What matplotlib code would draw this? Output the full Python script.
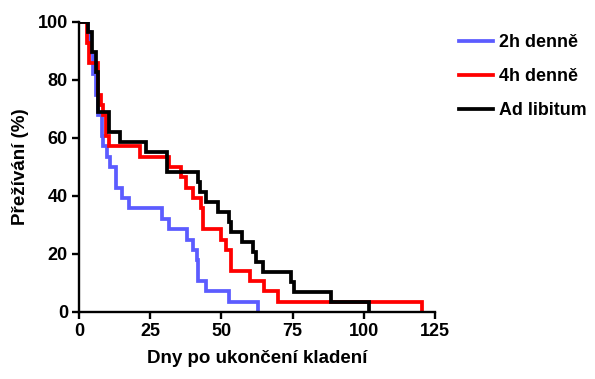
import matplotlib
matplotlib.use("Agg")
import matplotlib.pyplot as plt

plt.rcParams['font.family'] = ['Liberation Sans', 'DejaVu Sans']

# Data: drop times (days) and survival (%) after each drop
t_2h = [0, 3, 4, 5, 6, 6.5, 8, 8.5, 10, 11, 13, 15, 17.5, 29, 31.5, 37.8, 39.9, 41.3, 41.8, 44.5, 52.5, 62.7]
s_2h = [100, 96.4, 89.3, 82.1, 75, 67.9, 60.7, 57.1, 53.6, 50, 42.9, 39.3, 35.7, 32.1, 28.6, 25, 21.4, 17.9, 10.7, 7.1, 3.6, 0]

t_4h = [0, 2.8, 3.5, 6.7, 7.7, 8.5, 9.5, 10.5, 21.5, 31.5, 35.7, 37.5, 40, 42.8, 43.7, 49.7, 51.5, 53.2, 60.2, 64.8, 69.7, 120.5]
s_4h = [100, 92.9, 85.7, 75, 71.4, 67.9, 60.7, 57.1, 53.6, 50, 46.4, 42.9, 39.3, 35.7, 28.6, 25, 21.4, 14.3, 10.7, 7.1, 3.6, 0]

t_ad = [0, 3, 4.5, 6, 6.5, 10.5, 14.5, 23.5, 31, 41.7, 42.5, 44.5, 48.7, 52.5, 53.2, 57.4, 61, 62.3, 64.5, 74.5, 75.5, 88.6, 101.9]
s_ad = [100, 96.6, 89.7, 82.8, 69, 62.1, 58.6, 55.2, 48.3, 44.8, 41.4, 37.9, 34.5, 31, 27.6, 24.1, 20.7, 17.2, 13.8, 10.3, 6.9, 3.4, 0]

labels = ["2h denně", "4h denně", "Ad libitum"]
colors = ["#5C5CFF", "#FF0000", "#000000"]

x_ticks = [0, 25, 50, 75, 100, 125]
y_ticks = [0, 20, 40, 60, 80, 100]

fig = plt.figure(figsize=(5.95, 3.79), dpi=100)
ax = fig.add_axes([79/595, 1-312/379, (435-79)/595, (312-22)/379])

for t, s, lab, c in zip([t_2h, t_4h, t_ad], [s_2h, s_4h, s_ad], labels, colors):
    ax.step(t, s, where='post', color=c, lw=2.7, label=lab, solid_joinstyle='miter')

ax.set_xlim(0, 125)
ax.set_ylim(0, 100)
ax.set_xticks(x_ticks)
ax.set_yticks(y_ticks)
for side in ['top', 'right']:
    ax.spines[side].set_visible(False)
for side in ['left', 'bottom']:
    ax.spines[side].set_linewidth(1.7)
ax.tick_params(width=1.7, length=5, labelsize=13, pad=3)
for lbl in ax.get_xticklabels() + ax.get_yticklabels():
    lbl.set_fontweight('bold')

ax.set_xlabel("Dny po ukončení kladení", fontsize=13.5, fontweight='bold', labelpad=7)
ax.set_ylabel("Přežívání (%)", fontsize=13.5, fontweight='bold', labelpad=6)

leg = fig.legend(loc='upper left', bbox_to_anchor=(443/595, 1-18/379), frameon=False,
                 fontsize=12.9, handlelength=1.9, handletextpad=0.3, labelspacing=0.95)
for txt in leg.get_texts():
    txt.set_fontweight('bold')

fig.savefig("out.png", dpi=100)
